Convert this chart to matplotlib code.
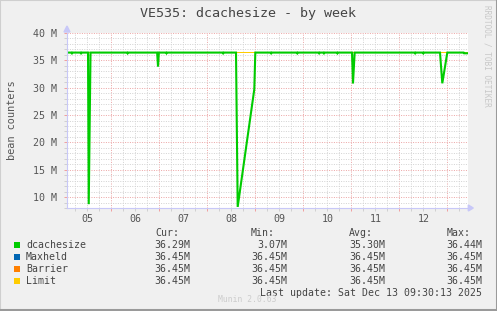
import matplotlib
matplotlib.use("Agg")
import matplotlib.pyplot as plt
from matplotlib.patches import Rectangle, Polygon
from matplotlib.lines import Line2D
import numpy as np

W, H = 497, 311

# ---------------- data (days of Dec 2025, values in M) ----------------
times = [5.077, 5.17, 5.18, 5.19, 5.36, 5.37, 5.38, 5.515, 5.53, 5.567,
         6.33, 6.34, 6.35, 6.955, 6.973, 6.99, 7.14, 7.15, 7.16,
         8.32, 8.33, 8.34, 8.598, 8.633, 8.979, 9.0,
         9.32, 9.33, 9.34, 9.865, 9.875, 9.885, 10.32, 10.33, 10.34,
         10.42, 10.43, 10.44, 10.70, 10.71, 10.72,
         11.015, 11.035, 11.07, 12.32, 12.33, 12.34, 12.49, 12.5, 12.51,
         12.848, 12.896, 13.0, 13.34, 13.35, 13.4375]
dcachesize = [36.42, 36.42, 36.29, 36.42, 36.42, 36.29, 36.42, 36.42, 8.7, 36.42,
              36.42, 36.29, 36.42, 36.42, 33.9, 36.42, 36.42, 36.29, 36.42,
              36.42, 36.29, 36.42, 36.42, 8.2, 29.7, 36.42,
              36.42, 36.29, 36.42, 36.42, 36.29, 36.42, 36.42, 36.29, 36.42,
              36.42, 36.29, 36.42, 36.42, 36.29, 36.42,
              36.42, 30.76, 36.42, 36.42, 36.29, 36.42, 36.42, 36.29, 36.42,
              36.42, 30.8, 36.42, 36.42, 36.29, 36.29]
limit_times = [5.077, 13.4375]
maxheld = [36.45, 36.45]
barrier = [36.45, 36.45]
limit = [36.45, 36.45]

day_labels = ["05", "06", "07", "08", "09", "10", "11", "12"]
day_label_pos = [5.5, 6.5, 7.5, 8.5, 9.5, 10.5, 11.5, 12.5]
y_major = [10, 15, 20, 25, 30, 35, 40]

series_names = ["dcachesize", "Maxheld", "Barrier", "Limit"]
series_colors = ["#00CC00", "#0066B3", "#FF8000", "#FFCC00"]
cur_vals = ["36.29M", "36.45M", "36.45M", "36.45M"]
min_vals = ["3.07M", "36.45M", "36.45M", "36.45M"]
avg_vals = ["35.30M", "36.45M", "36.45M", "36.45M"]
max_vals = ["36.44M", "36.45M", "36.45M", "36.45M"]

# ---------------- figure ----------------
mono = "DejaVu Sans Mono"
plt.rcParams['font.family'] = [mono]
fig = plt.figure(figsize=(W / 100, H / 100), dpi=100, facecolor="#F0F0F0")

def fx(x):
    return x / W

def fy(y):
    return 1 - y / H

L, R, T, B = 67, 468.3, 33, 208
ax = fig.add_axes([fx(L), fy(B), fx(R) - fx(L), fy(T) - fy(B)])
ax.set_facecolor("white")
ax.set_xlim(5.077, 13.4375)
ax.set_ylim(8, 40)

# grid
ax.set_yticks(y_major)
ax.set_yticks(np.arange(8, 41, 1), minor=True)
ax.set_xticks(np.arange(6, 14, 1))
ax.set_xticks(np.arange(5.25, 13.5, 0.25), minor=True)
dot = (0, (1, 1.4))
ax.grid(which="minor", color="#D4D4D4", linestyle=dot, linewidth=0.72)
ax.grid(which="major", color="#EDA8A8", linestyle=dot, linewidth=0.72)
ax.set_axisbelow(True)

ax.set_yticklabels([f"{v} M" for v in y_major], fontsize=7.2, color="#555555")
ax.set_xticklabels([])
for p, lab in zip(day_label_pos, day_labels):
    ax.text(p, -0.035, lab, transform=ax.get_xaxis_transform(), ha="center",
            va="top", fontsize=7.2, color="#555555")
ax.tick_params(axis="both", which="both", length=2, width=0.72, color="#D0D0D0")
ax.tick_params(axis="x", which="major", color="#F0A0A0")
ax.tick_params(axis="y", which="major", pad=5, length=2, color="#F0A0A0")
ax.tick_params(axis="x", which="major", pad=4)

for s in ["top", "right"]:
    ax.spines[s].set_visible(False)
for s in ["left", "bottom"]:
    ax.spines[s].set_color("#C8C8F8")
    ax.spines[s].set_linewidth(0.8)

# arrows
fig.patches.append(Polygon([(fx(L - 3), fy(T - 1)), (fx(L + 3), fy(T - 1)), (fx(L), fy(T - 7))],
                           closed=True, transform=fig.transFigure, color="#C8C8F8"))
fig.patches.append(Polygon([(fx(R), fy(B - 3)), (fx(R), fy(B + 3)), (fx(R + 5), fy(B))],
                           closed=True, transform=fig.transFigure, color="#C8C8F8"))

# series
for vals, c in zip([maxheld, barrier, limit], series_colors[1:]):
    ax.plot(limit_times, vals, color=c, linewidth=0.72, solid_capstyle="butt")
ax.plot(times, dcachesize, color=series_colors[0], linewidth=1.5, solid_joinstyle="miter")

# texts
fig.text(fx(248), fy(13), "VE535: dcachesize - by week", ha="center", va="center",
         fontsize=9.6, color="#444444")
fig.text(fx(12), fy(120), "bean counters", rotation=90, ha="center", va="center",
         fontsize=7.4, color="#555555")
fig.text(fx(487), fy(5), "RRDTOOL / TOBI OETIKER", rotation=270, ha="center", va="top",
         fontsize=5.6, color="#C8C8C8")

# legend
fs = 7.1
tc = "#444444"
hy = 233
fig.text(fx(155), fy(hy), "Cur:", ha="left", va="center", fontsize=fs, color=tc)
fig.text(fx(251), fy(hy), "Min:", ha="left", va="center", fontsize=fs, color=tc)
fig.text(fx(349), fy(hy), "Avg:", ha="left", va="center", fontsize=fs, color=tc)
fig.text(fx(447), fy(hy), "Max:", ha="left", va="center", fontsize=fs, color=tc)
rows_y = [245.3, 257.3, 269.3, 281.3]
for i, ry in enumerate(rows_y):
    fig.patches.append(Rectangle((fx(14), fy(ry + 3)), 6 / W, 6 / H, transform=fig.transFigure,
                                 facecolor=series_colors[i], edgecolor="none"))
    fig.text(fx(26), fy(ry), series_names[i], ha="left", va="center", fontsize=fs, color=tc)
    fig.text(fx(190), fy(ry), cur_vals[i], ha="right", va="center", fontsize=fs, color=tc)
    fig.text(fx(287.5), fy(ry), min_vals[i], ha="right", va="center", fontsize=fs, color=tc)
    fig.text(fx(385), fy(ry), avg_vals[i], ha="right", va="center", fontsize=fs, color=tc)
    fig.text(fx(482.5), fy(ry), max_vals[i], ha="right", va="center", fontsize=fs, color=tc)
fig.text(fx(482.5), fy(292.5), "Last update: Sat Dec 13 09:30:13 2025", ha="right",
         va="center", fontsize=fs, color=tc)
fig.text(fx(247), fy(300), "Munin 2.0.63", ha="center", va="center", fontsize=5.8,
         color="#CCCCCC")

# border
fig.lines.append(Line2D([0, 0, 1], [0, 1, 1], transform=fig.transFigure, color="#CFCFCF",
                        linewidth=1.5))
fig.lines.append(Line2D([0, 1, 1], [0.002, 0.002, 1], transform=fig.transFigure, color="#9A9A9A",
                        linewidth=2.2))

fig.savefig("out.png", dpi=100, facecolor=fig.get_facecolor())
